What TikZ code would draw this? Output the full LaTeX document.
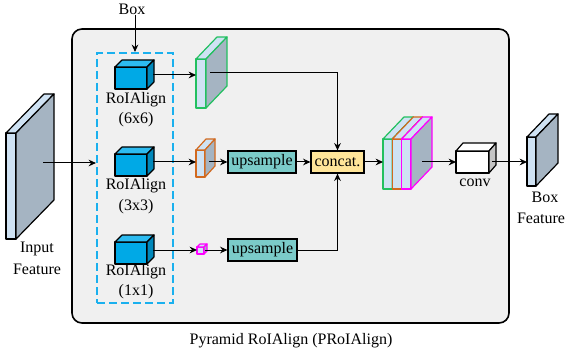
\documentclass[tikz,border=0pt]{standalone}
\usepackage{fontspec}
\setmainfont{Liberation Serif}
\usetikzlibrary{arrows.meta}
\definecolor{outerfill}{HTML}{F0F0F0}
\definecolor{dashcyan}{HTML}{1AB0EE}
\definecolor{slabfront}{HTML}{CFE2F3}
\definecolor{slabside}{HTML}{A5B4C2}
\definecolor{cubefront}{HTML}{00A9E6}
\definecolor{cubetop}{HTML}{2DBBF0}
\definecolor{cubeside}{HTML}{0088BB}
\definecolor{upfill}{HTML}{7BCBC9}
\definecolor{catfill}{HTML}{FFE599}
\definecolor{sgreen}{HTML}{22C060}
\definecolor{sorange}{HTML}{D2691E}
\definecolor{smagenta}{HTML}{FF00FF}
\definecolor{convside}{HTML}{C4C4C4}
% slab: name, x, y, w, h, dx, dy, border colour
\newcommand{\myslab}[8]{%
  \filldraw[draw=#8, fill=slabfront, line width=0.9pt, line join=round] (#2,#3) rectangle (#2+#4,#3+#5);
  \filldraw[draw=#8, fill=slabfront, line width=0.9pt, line join=round] (#2,#3) -- (#2+#6,#3+#7) -- (#2+#4+#6,#3+#7) -- (#2+#4,#3) -- cycle;
  \filldraw[draw=#8, fill=slabside, line width=0.9pt, line join=round] (#2+#4,#3) -- (#2+#4+#6,#3+#7) -- (#2+#4+#6,#3+#7+#5) -- (#2+#4,#3+#5) -- cycle;
  \coordinate (#1) at (#2,#3);}
% cube: name, x, y, w, h, dx, dy, colour prefix
\newcommand{\mycube}[8]{%
  \filldraw[draw=black, fill=#8front, line width=0.9pt, line join=round] (#2,#3) rectangle (#2+#4,#3+#5);
  \filldraw[draw=black, fill=#8top, line width=0.9pt, line join=round] (#2,#3) -- (#2+#6,#3+#7) -- (#2+#4+#6,#3+#7) -- (#2+#4,#3) -- cycle;
  \filldraw[draw=black, fill=#8side, line width=0.9pt, line join=round] (#2+#4,#3) -- (#2+#4+#6,#3+#7) -- (#2+#4+#6,#3+#7+#5) -- (#2+#4,#3+#5) -- cycle;
  \coordinate (#1) at (#2,#3);}
\colorlet{convfront}{white}
\colorlet{convtop}{white}
\tikzset{
  conn/.style={line width=0.75pt, -{Stealth[length=5.5pt,width=5pt]}},
  opbox/.style={draw=black, line width=0.9pt, minimum height=16.5pt, inner sep=0pt, font=\fontsize{12}{14}\selectfont},
  lbl/.style={inner sep=0pt, font=\fontsize{12}{14}\selectfont},
}
\begin{document}
\begin{tikzpicture}[x=0.75pt,y=-0.75pt]
\useasboundingbox (0,0) rectangle (567,356);
% outer frame
\draw[line width=1.2pt, fill=outerfill, rounded corners=7.5pt] (72,29) rectangle (509,323);
\node[lbl] (title) at (291,341) {Pyramid RoIAlign (PRoIAlign)};
% dashed group
\node[draw=dashcyan, line width=1.6pt, dash pattern=on 6pt off 3pt, minimum width=57pt, minimum height=187.5pt, inner sep=0pt] (dbox) at (135,178) {};
\node[lbl] (boxlbl) at (132,9) {Box};
\draw[conn] (boxlbl.south -| dbox.north) -- (dbox.north);
% input feature
\myslab{inp}{6}{133}{10}{106}{38}{-39}{black}
\coordinate (inpc) at (43,163);
\node[lbl] (inplbl1) at (37,249) {Input};
\node[lbl] (inplbl2) at (37,269) {Feature};
\draw[conn] (inpc) -- (inpc -| dbox.west);
% RoIAlign cubes
\mycube{c1}{115}{67}{32}{22}{7}{-7}{cube}
\mycube{c2}{115}{154}{32}{22}{7}{-7}{cube}
\mycube{c3}{115}{242}{32}{22}{7}{-7}{cube}
\node[lbl] (r1) at (136,100) {RoIAlign};
\node[lbl] (r1b) at (136,120) {(6x6)};
\node[lbl] (r2) at (136,186) {RoIAlign};
\node[lbl] (r2b) at (136,207) {(3x3)};
\node[lbl] (r3) at (136,272) {RoIAlign};
\node[lbl] (r3b) at (136,292) {(1x1)};
\coordinate (c1o) at (153,75);
\coordinate (c2o) at (153,162);
\coordinate (c3o) at (153,250);
% pooled features
\myslab{gs}{196}{59}{10}{49}{21}{-22}{sgreen}
\myslab{os}{196}{150}{9}{27}{10}{-11}{sorange}
\myslab{ms}{197}{247}{7}{7}{3}{-3}{smagenta}
\coordinate (gsin) at (196,75);
\coordinate (gsout) at (210,73);
\coordinate (osin) at (196,162);
\coordinate (osout) at (209,162);
\coordinate (msin) at (197,250);
\coordinate (msout) at (205,250);
% operations
\node[opbox, fill=upfill, minimum width=51pt] (up1) at (262,162) {upsample};
\node[opbox, fill=upfill, minimum width=51.75pt] (up2) at (262.5,250) {upsample};
\node[opbox, fill=catfill, minimum width=39.75pt] (cat) at (337.5,162) {concat.};
% stacked features
\myslab{st1}{383}{139}{9.3}{50}{21}{-22}{sgreen}
\myslab{st2}{392.3}{139}{9.3}{50}{21}{-22}{sorange}
\myslab{st3}{401.6}{139}{9.4}{50}{21}{-22}{smagenta}
\coordinate (stin) at (383,162);
\coordinate (stout) at (422,162);
% conv
\mycube{cv}{456}{151}{33}{22}{7}{-8}{conv}
\coordinate (cvin) at (456,162);
\coordinate (cvout) at (492,162);
\node[lbl] (cvlbl) at (475,183) {conv};
% box feature
\myslab{bf}{527}{137}{9}{49}{22}{-23}{black}
\coordinate (bfin) at (527,162);
\node[lbl] (bfl1) at (545,197) {Box};
\node[lbl] (bfl2) at (541,218) {Feature};
% connectors
\draw[conn] (c1o) -- (gsin);
\draw[conn] (gsout) -| (cat.north);
\draw[conn] (c2o) -- (osin);
\draw[conn] (osout) -- (up1.west);
\draw[conn] (up1.east) -- (cat.west);
\draw[conn] (cat.east) -- (stin);
\draw[conn] (c3o) -- (msin);
\draw[conn] (msout) -- (up2.west);
\draw[conn] (up2.east) -| (cat.south);
\draw[conn] (stout) -- (cvin);
\draw[conn] (cvout) -- (bfin);
\end{tikzpicture}
\end{document}
